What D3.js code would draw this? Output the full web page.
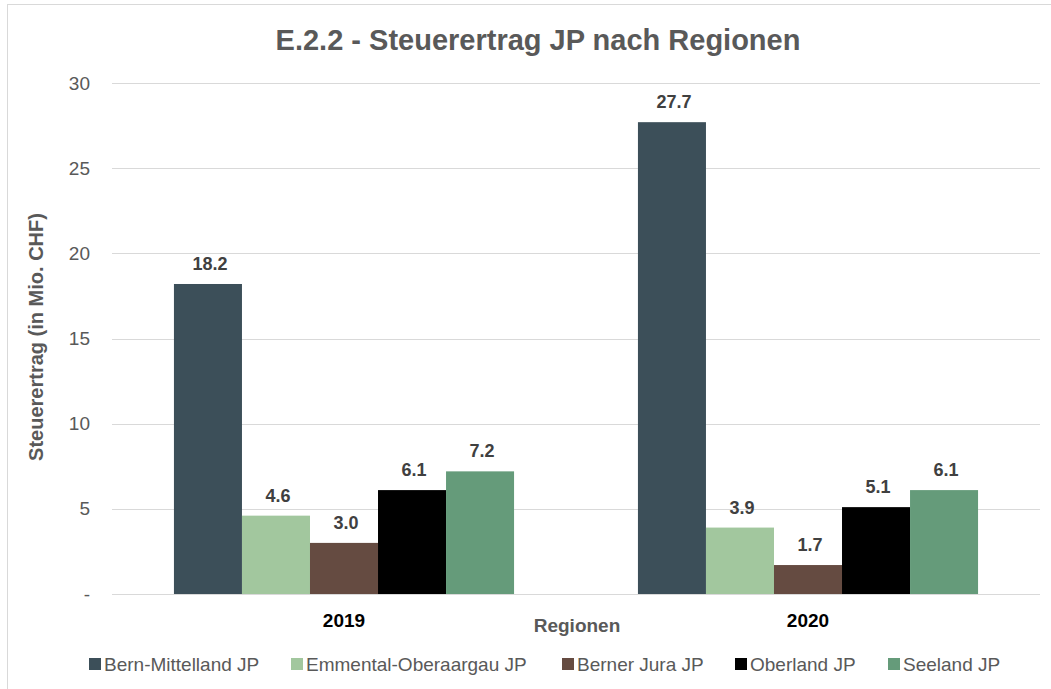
<!DOCTYPE html>
<html>
<head>
<meta charset="utf-8">
<script src="https://cdn.jsdelivr.net/npm/d3@7"></script>
<style>
  body { margin: 0; background: #fff; }
  svg text { font-family: "Liberation Sans", Arial, sans-serif; }
</style>
</head>
<body>
<div id="chart"></div>
<script>
// Data
const years = ["2019", "2020"];
const regions = ["Bern-Mittelland JP", "Emmental-Oberaargau JP", "Berner Jura JP", "Oberland JP", "Seeland JP"];
const values2019 = [18.2, 4.6, 3.0, 6.1, 7.2];
const values2020 = [27.7, 3.9, 1.7, 5.1, 6.1];
const yTicks = [0, 5, 10, 15, 20, 25, 30];
const colors = ["#3c4f59", "#a2c79e", "#654b41", "#000000", "#659b7a"];

const seriesByYear = [values2019, values2020];

const W = 1051, H = 689;
const margin = { top: 83, right: 11, bottom: 95, left: 112 };
const width = W - margin.left - margin.right;
const height = H - margin.top - margin.bottom;

const svg = d3.select("#chart")
    .append("svg")
    .attr("width", W)
    .attr("height", H);

// chart border (left and top visible)
svg.append("rect")
    .attr("x", 7.5).attr("y", 4.5)
    .attr("width", 1060).attr("height", 700)
    .attr("fill", "none")
    .attr("stroke", "#d9d9d9");

// Title
svg.append("text")
    .attr("x", 538)
    .attr("y", 50)
    .attr("text-anchor", "middle")
    .attr("font-size", 29)
    .attr("font-weight", "bold")
    .attr("fill", "#595959")
    .text("E.2.2 - Steuerertrag JP nach Regionen");

const g = svg.append("g")
    .attr("transform", `translate(${margin.left},${margin.top})`);

// Scales
const x0 = d3.scaleBand()
    .domain(years)
    .range([0, width])
    .paddingInner(0.267)
    .paddingOuter(0.1335);

const x1 = d3.scaleBand()
    .domain(regions)
    .range([0, x0.bandwidth()]);

const y = d3.scaleLinear()
    .domain([0, 30])
    .range([height, 0]);

// Grid lines
g.append("g")
    .selectAll("line")
    .data(yTicks)
    .enter()
    .append("line")
    .attr("x1", 0)
    .attr("x2", width)
    .attr("y1", d => Math.round(y(d)) + 0.5)
    .attr("y2", d => Math.round(y(d)) + 0.5)
    .attr("stroke", "#d9d9d9")
    .attr("stroke-width", 1);

// Y axis
const yAxis = g.append("g")
    .call(d3.axisLeft(y)
        .tickValues(yTicks)
        .tickSize(0)
        .tickPadding(22)
        .tickFormat(d => d === 0 ? "-" : d));
yAxis.select(".domain").remove();
yAxis.selectAll("text")
    .attr("font-size", 19)
    .attr("fill", "#595959")
    .attr("font-family", "Liberation Sans, Arial, sans-serif");

// X axis
const xAxis = g.append("g")
    .attr("transform", `translate(0,${height})`)
    .call(d3.axisBottom(x0).tickSize(0).tickPadding(20));
xAxis.select(".domain").remove();
xAxis.selectAll("text")
    .attr("font-size", 19)
    .attr("font-weight", "bold")
    .attr("fill", "#000")
    .attr("font-family", "Liberation Sans, Arial, sans-serif");

// Bars
const groups = g.selectAll(".grp")
    .data(years)
    .enter()
    .append("g")
    .attr("class", "grp")
    .attr("transform", d => `translate(${x0(d)},0)`);

groups.selectAll("rect")
    .data((d, i) => regions.map((r, j) => ({ region: r, value: seriesByYear[i][j], c: colors[j] })))
    .enter()
    .append("rect")
    .attr("x", d => x1(d.region))
    .attr("y", d => y(d.value))
    .attr("width", x1.bandwidth())
    .attr("height", d => height - y(d.value))
    .attr("fill", d => d.c);

groups.selectAll(".lbl")
    .data((d, i) => regions.map((r, j) => ({ region: r, value: seriesByYear[i][j] })))
    .enter()
    .append("text")
    .attr("class", "lbl")
    .attr("x", d => x1(d.region) + x1.bandwidth() / 2 + 2)
    .attr("y", d => y(d.value) - 14)
    .attr("text-anchor", "middle")
    .attr("font-size", 18)
    .attr("font-weight", "bold")
    .attr("fill", "#404040")
    .text(d => d.value.toFixed(1));

// Axis titles
svg.append("text")
    .attr("x", 577)
    .attr("y", 632)
    .attr("text-anchor", "middle")
    .attr("font-size", 19)
    .attr("font-weight", "bold")
    .attr("fill", "#595959")
    .text("Regionen");

svg.append("text")
    .attr("transform", "translate(43,337) rotate(-90)")
    .attr("text-anchor", "middle")
    .attr("font-size", 20)
    .attr("font-weight", "bold")
    .attr("fill", "#595959")
    .text("Steuerertrag (in Mio. CHF)");

// Legend
const legendX = [89, 291, 562, 735, 888];
const legend = svg.append("g");
const items = legend.selectAll("g")
    .data(regions)
    .enter()
    .append("g")
    .attr("transform", (d, i) => `translate(${legendX[i]},658)`);
items.append("rect")
    .attr("width", 12).attr("height", 12)
    .attr("fill", (d, i) => colors[i]);
items.append("text")
    .attr("x", 15)
    .attr("y", 12.5)
    .attr("font-size", 19)
    .attr("fill", "#595959")
    .text(d => d);
</script>
</body>
</html>
